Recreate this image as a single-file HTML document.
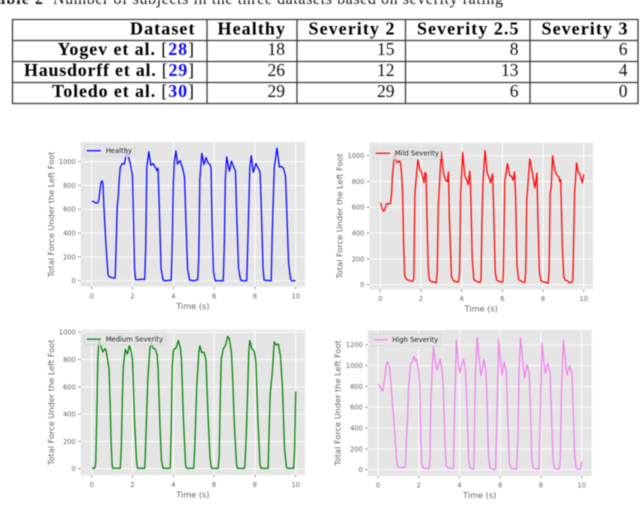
<!DOCTYPE html>
<html lang="en">
<head>
<meta charset="utf-8">
<title>Severity table and foot force charts</title>
<style>
html,body{margin:0;padding:0;background:#fff;width:640px;height:521px;overflow:hidden}
svg{display:block;filter:blur(.45px)}
.cap{font-family:"Liberation Serif",serif;font-size:16px;fill:#111}
.hd{font-family:"Liberation Serif",serif;font-size:18px;font-weight:bold;fill:#000;text-anchor:start}
.val{font-family:"Liberation Serif",serif;font-size:17.5px;fill:#111;text-anchor:end}
.ref{fill:#1010f0}
.br{font-weight:normal}
.rule{stroke:#3a3a3a;stroke-width:1.3}
</style>
</head>
<body>
<svg id="figure" xmlns="http://www.w3.org/2000/svg" width="640" height="521" viewBox="0 0 640 521">
  <g>
    <text class="cap" x="-13" y="4" font-weight="bold" textLength="56" lengthAdjust="spacing">Table 2</text>
    <text class="cap" x="53" y="4" textLength="450" lengthAdjust="spacing">Number of subjects in the three datasets based on severity rating</text>
  </g>
  <g>
    <line class="rule" x1="12.5" x2="638" y1="19.5" y2="19.5"/>
    <line class="rule" x1="12.5" x2="638" y1="40.5" y2="40.5"/>
    <line class="rule" x1="12.5" x2="638" y1="61.5" y2="61.5"/>
    <line class="rule" x1="12.5" x2="638" y1="82.5" y2="82.5"/>
    <line class="rule" x1="12.5" x2="638" y1="103.5" y2="103.5"/>
    <line class="rule" x1="12.5" x2="12.5" y1="19" y2="104"/>
    <line class="rule" x1="207" x2="207" y1="19" y2="104"/>
    <line class="rule" x1="297" x2="297" y1="19" y2="104"/>
    <line class="rule" x1="405.5" x2="405.5" y1="19" y2="104"/>
    <line class="rule" x1="530" x2="530" y1="19" y2="104"/>
    <line class="rule" x1="638" x2="638" y1="19" y2="104"/>

    <text class="hd" x="130" y="34.5" textLength="64.5">Dataset</text>
    <text class="hd" x="217.5" y="34.5" textLength="67.5">Healthy</text>
    <text class="hd" x="308.5" y="34.5" textLength="86">Severity 2</text>
    <text class="hd" x="417" y="34.5" textLength="101.5">Severity 2.5</text>
    <text class="hd" x="541.5" y="34.5" textLength="86">Severity 3</text>

    <text class="hd" x="57.5" y="55" textLength="136.5">Yogev et al. <tspan class="br">[</tspan><tspan class="ref">28</tspan><tspan class="br">]</tspan></text>
    <text class="hd" x="24" y="76" textLength="170">Hausdorff et al. <tspan class="br">[</tspan><tspan class="ref">29</tspan><tspan class="br">]</tspan></text>
    <text class="hd" x="52" y="97" textLength="142">Toledo et al. <tspan class="br">[</tspan><tspan class="ref">30</tspan><tspan class="br">]</tspan></text>

    <text class="val" x="285" y="55">18</text>
    <text class="val" x="394.5" y="55">15</text>
    <text class="val" x="518.5" y="55">8</text>
    <text class="val" x="627.5" y="55">6</text>
    <text class="val" x="285" y="76">26</text>
    <text class="val" x="394.5" y="76">12</text>
    <text class="val" x="518.5" y="76">13</text>
    <text class="val" x="627.5" y="76">4</text>
    <text class="val" x="285" y="97">29</text>
    <text class="val" x="394.5" y="97">29</text>
    <text class="val" x="518.5" y="97">6</text>
    <text class="val" x="627.5" y="97">0</text>
  </g>
</svg>
<script>
const timeTicks = [0, 2, 4, 6, 8, 10];
const forceTicksA = [0, 200, 400, 600, 800, 1000];
const forceTicksB = [0, 200, 400, 600, 800, 1000, 1200];

const healthyTime = [0,.1,.2,.3,.35,.45,.5,.55,.6,.7,.8,.85,.95,1.1,1.15,1.2,1.25,1.3,1.35,1.4,1.5,1.6,1.65,1.7,1.8,1.9,2,2.05,2.1,2.15,2.3,2.4,2.6,2.65,2.7,2.8,2.9,3,3.1,3.2,3.25,3.3,3.4,3.5,3.6,3.9,3.95,4,4.05,4.13,4.2,4.33,4.45,4.55,4.6,4.7,4.8,5,5.2,5.25,5.3,5.4,5.5,5.6,5.7,5.8,5.85,5.9,5.97,6.05,6.45,6.5,6.55,6.62,6.75,6.85,6.95,7.05,7.1,7.2,7.3,7.4,7.6,7.65,7.75,7.82,7.92,8.05,8.15,8.25,8.3,8.4,8.45,8.8,8.85,8.95,9.08,9.2,9.3,9.4,9.5,9.55,9.65,9.75,9.8,10];
const healthyForce = [665,665,652,655,680,820,840,820,620,300,50,35,28,20,25,300,620,700,850,950,985,980,1020,1090,1040,980,880,500,100,10,8,12,10,300,950,1085,970,985,960,925,945,700,100,5,0,5,300,800,1000,1090,980,1010,950,870,600,100,5,0,8,200,850,1070,975,1035,990,975,950,500,80,0,0,300,850,1040,920,1005,960,920,600,100,5,0,0,300,950,1050,910,985,950,915,700,100,5,0,400,950,1115,955,960,945,880,650,150,10,0,0];

const mildTime = [0,.05,.1,.15,.2,.3,.35,.4,.5,.55,.6,.7,.8,.85,.95,1,1.05,1.1,1.15,1.2,1.3,1.4,1.5,1.6,1.65,1.7,1.75,1.85,1.95,2,2.1,2.15,2.2,2.25,2.3,2.35,2.4,2.5,2.6,2.75,2.8,2.85,2.95,3,3.1,3.2,3.3,3.35,3.4,3.5,3.6,3.75,3.85,3.9,3.95,4.05,4.15,4.25,4.32,4.4,4.45,4.52,4.6,4.75,4.9,4.95,5,5.05,5.15,5.25,5.35,5.42,5.52,5.57,5.65,5.72,5.9,6.02,6.05,6.12,6.25,6.35,6.45,6.53,6.6,6.65,6.72,6.8,7,7.1,7.15,7.2,7.35,7.47,7.6,7.7,7.75,7.82,7.9,8.1,8.25,8.3,8.35,8.4,8.47,8.57,8.7,8.78,8.82,8.87,8.95,9.02,9.1,9.2,9.3,9.42,9.47,9.55,9.65,9.72,9.8,9.93,10];
const mildForce = [635,620,585,570,575,625,630,625,630,700,850,1010,960,945,960,940,850,700,300,70,40,35,28,28,50,700,800,970,890,880,830,790,870,860,500,150,40,25,22,15,100,600,900,1030,870,810,800,875,500,60,30,22,22,100,700,1025,850,810,775,880,700,200,40,25,18,30,500,800,1040,870,830,790,860,600,100,35,22,20,100,800,940,850,840,810,875,700,150,40,20,18,100,650,975,870,750,865,500,100,30,18,12,100,700,750,1000,890,845,835,800,815,300,60,35,30,15,18,50,700,945,880,860,790,855];

const mediumTime = [0,.15,.2,.25,.3,.35,.45,.55,.65,.7,.8,.85,.9,.95,1,1.03,1.4,1.45,1.5,1.55,1.65,1.75,1.85,1.95,2,2.1,2.2,2.25,2.6,2.65,2.75,2.85,2.92,3,3.05,3.1,3.2,3.25,3.35,3.42,3.5,3.85,3.9,3.95,4,4.05,4.12,4.25,4.35,4.4,4.5,4.6,4.65,5,5.05,5.15,5.25,5.3,5.4,5.5,5.6,5.7,5.8,5.87,6.2,6.25,6.3,6.35,6.45,6.55,6.67,6.75,6.85,6.9,7,7.1,7.15,7.5,7.55,7.6,7.7,7.75,7.85,7.97,8.05,8.15,8.25,8.3,8.65,8.7,8.75,8.85,8.95,9.05,9.15,9.25,9.35,9.45,9.55,9.6,9.9,9.95,10];
const mediumForce = [3,3,50,400,800,940,900,855,880,870,780,730,500,200,30,3,3,150,500,750,875,840,905,850,800,350,50,3,3,200,650,880,925,885,880,880,840,750,300,60,3,3,300,750,860,880,880,940,880,800,350,30,3,3,150,600,850,900,850,855,800,400,80,3,3,100,500,800,880,900,970,950,850,700,300,30,3,3,150,350,850,940,880,860,780,350,30,3,3,300,550,700,930,905,915,830,600,150,10,3,3,150,565];

const highTime = [0,.05,.1,.15,.2,.25,.32,.4,.47,.55,.62,.7,.8,.85,.95,1,1.1,1.3,1.35,1.4,1.45,1.5,1.55,1.6,1.67,1.77,1.85,1.9,2,2.05,2.1,2.15,2.22,2.5,2.55,2.6,2.72,2.8,2.9,3,3.05,3.15,3.2,3.3,3.35,3.45,3.7,3.75,3.85,3.95,4.02,4.1,4.2,4.3,4.35,4.45,4.52,4.7,4.73,4.78,4.87,4.95,5.05,5.12,5.2,5.3,5.35,5.42,5.5,5.65,5.77,5.82,5.93,6,6.08,6.2,6.3,6.37,6.45,6.55,6.8,6.87,6.93,7,7.1,7.2,7.32,7.42,7.5,7.55,7.63,7.9,7.95,8.05,8.15,8.22,8.33,8.45,8.52,8.6,8.67,8.9,8.95,9,9.1,9.2,9.28,9.4,9.52,9.58,9.65,9.72,9.8,9.95,10];
const highForce = [815,815,800,775,755,770,860,1000,1035,1000,880,650,420,260,30,25,20,20,50,300,500,780,900,1010,1030,1090,1040,1060,940,800,300,60,15,10,100,700,1180,1050,955,1030,1060,950,800,200,40,15,10,500,1240,1020,930,1000,1060,950,700,100,15,5,300,900,1270,1100,905,960,1055,950,700,150,15,5,5,400,1250,1080,910,1030,940,500,60,10,5,300,1000,1265,1050,880,1010,930,500,100,15,5,400,1215,1020,925,1020,930,500,80,10,5,100,700,1240,1050,910,995,930,600,150,20,5,5,80];

const NS = 'http://www.w3.org/2000/svg';
const svg = document.getElementById('figure');
const TICK_FONT = '"DejaVu Sans","Liberation Sans",sans-serif';

function make(parent, tag, attrs, text) {
  const node = document.createElementNS(NS, tag);
  for (const k in attrs) node.setAttribute(k, attrs[k]);
  if (text !== undefined) node.textContent = text;
  parent.appendChild(node);
  return node;
}

const panels = [
  { id:'healthy', label:'Healthy', color:'#0000ff', time:healthyTime, force:healthyForce, ticks:forceTicksA,
    left:80.7, right:305, top:142, bottom:286.7, x0:91.7, x10:295.7, yZero:280.7, yRefPx:161.7, yRef:1000,
    tickBase:298.5, timeBase:309, yLabelX:51.2, legend:[84.3,144.7,50.7,12], legendLine:[86.7,101], legendText:105.7 },
  { id:'mild', label:'Mild Severity', color:'#ff0000', time:mildTime, force:mildForce, ticks:forceTicksA,
    left:369.3, right:593, top:142.7, bottom:289.3, x0:380.3, x10:583.7, yZero:284.7, yRefPx:155.7, yRef:1000,
    tickBase:301, timeBase:311.5, yLabelX:339.5, legend:[373.3,147.3,67.4,12], legendLine:[375.7,390], legendText:394.7 },
  { id:'medium', label:'Medium Severity', color:'#008000', time:mediumTime, force:mediumForce, ticks:forceTicksA,
    left:80.7, right:305, top:329.7, bottom:475, x0:91.7, x10:295.7, yZero:468.7, yRefPx:332.3, yRef:1000,
    tickBase:487, timeBase:497.5, yLabelX:51.2, legend:[84.3,333.3,81.4,11.8], legendLine:[86.7,101], legendText:105.7 },
  { id:'high', label:'High Severity', color:'#ee82ee', time:highTime, force:highForce, ticks:forceTicksB,
    left:367.7, right:591.7, top:330, bottom:476, x0:378, x10:581.7, yZero:469.7, yRefPx:344.7, yRef:1200,
    tickBase:487.5, timeBase:498, yLabelX:337.5, legend:[371,334,69.7,11.7], legendLine:[373.3,387.7], legendText:392.3 }
];

panels.forEach(function (p) {
  const xScale = function (t) { return p.x0 + (t / 10) * (p.x10 - p.x0); };
  const yScale = function (v) { return p.yZero + (v / p.yRef) * (p.yRefPx - p.yZero); };

  const g = make(svg, 'g', {});
  
  

  const bg = make(g, 'rect', { x:p.left, y:p.top, width:p.right-p.left, height:p.bottom-p.top, fill:'#e5e5e5' });
  
  

  timeTicks.forEach(function (t) {
    const x = xScale(t);
    const grid = make(g, 'line', { x1:x, x2:x, y1:p.top, y2:p.bottom, stroke:'#fff', 'stroke-width':0.9 });
    
    
    const mark = make(g, 'line', { x1:x, x2:x, y1:p.bottom, y2:p.bottom+2.4, stroke:'#666', 'stroke-width':0.7 });
    
    
    const lab = make(g, 'text', { x:x, y:p.tickBase, 'text-anchor':'middle', 'font-family':TICK_FONT, 'font-size':6.6, fill:'#666' }, String(t));
    
    
  });

  p.ticks.forEach(function (v) {
    const y = yScale(v);
    const grid = make(g, 'line', { x1:p.left, x2:p.right, y1:y, y2:y, stroke:'#fff', 'stroke-width':0.9 });
    
    
    const mark = make(g, 'line', { x1:p.left-2.4, x2:p.left, y1:y, y2:y, stroke:'#666', 'stroke-width':0.7 });
    
    
    const lab = make(g, 'text', { x:p.left-5, y:y+2.4, 'text-anchor':'end', 'font-family':TICK_FONT, 'font-size':6.6, fill:'#666' }, String(v));
    
    
  });

  const clipId = p.id + '-clip';
  const clip = make(g, 'clipPath', { id:clipId });
  make(clip, 'rect', { x:p.left, y:p.top, width:p.right-p.left, height:p.bottom-p.top });

  const pts = p.time.map(function (t, i) { return xScale(t).toFixed(2) + ',' + yScale(p.force[i]).toFixed(2); }).join(' ');
  const line = make(g, 'polyline', { points:pts, fill:'none', stroke:p.color, 'stroke-width':1.25, 'stroke-linejoin':'round', 'clip-path':'url(#' + clipId + ')' });
  
  

  const xTitle = make(g, 'text', { x:(p.left+p.right)/2, y:p.timeBase, 'text-anchor':'middle', 'font-family':TICK_FONT, 'font-size':8.2, fill:'#666' }, 'Time (s)');
  
  

  const cy = (p.top + p.bottom) / 2;
  const yTitle = make(g, 'text', { x:p.yLabelX+3, y:cy, 'text-anchor':'middle', transform:'rotate(-90 ' + (p.yLabelX+3) + ' ' + cy + ')', 'font-family':TICK_FONT, 'font-size':8.2, fill:'#666' }, 'Total Force Under the Left Foot');
  
  

  const legend = make(g, 'g', {});
  
  
  const box = make(legend, 'rect', { x:p.legend[0], y:p.legend[1], width:p.legend[2], height:p.legend[3], rx:1.2, fill:'#e5e5e5', 'fill-opacity':0.8, stroke:'#d2d2d2', 'stroke-width':0.7 });
  
  
  const my = p.legend[1] + p.legend[3] / 2;
  const key = make(legend, 'line', { x1:p.legendLine[0], x2:p.legendLine[1], y1:my, y2:my, stroke:p.color, 'stroke-width':1.25 });
  
  
  const name = make(legend, 'text', { x:p.legendText, y:my+2.3, 'font-family':TICK_FONT, 'font-size':6.8, fill:'#222' }, p.label);
  
  
});
</script>
</body>
</html>
